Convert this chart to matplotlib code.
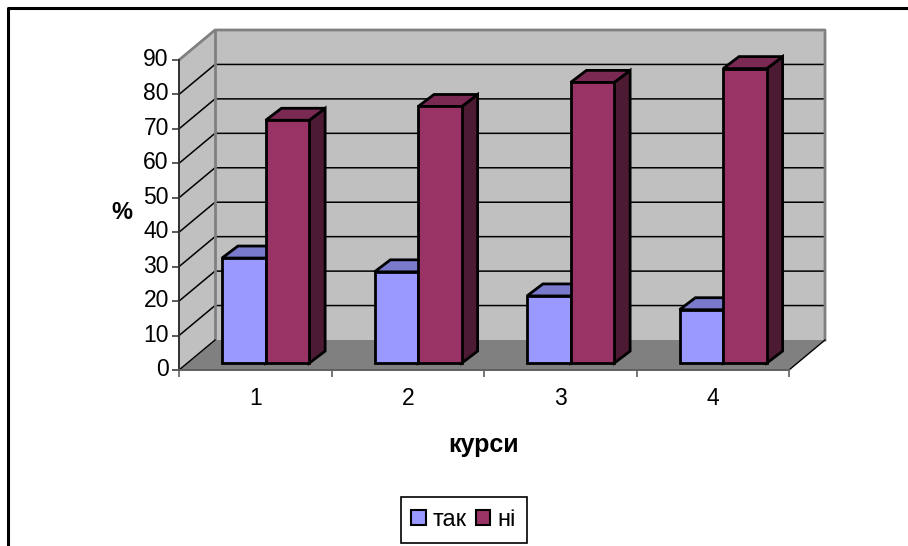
import matplotlib
matplotlib.use('Agg')
import matplotlib.pyplot as plt
from matplotlib.patches import Patch, Polygon, Rectangle
from matplotlib.lines import Line2D
from matplotlib.transforms import ScaledTranslation

plt.rcParams['font.family'] = ['Liberation Sans', 'DejaVu Sans']

categories = ['1', '2', '3', '4']
series_names = ['так', 'ні']
tak_values = [30.5, 26.5, 19.5, 15.5]
ni_values = [70.5, 74.5, 81.5, 85.5]
y_ticks = list(range(0, 100, 10))

# colours: front, top, side
tak_colors = ('#9999ff', '#7a7acc', '#4d4d80')
ni_colors = ('#993366', '#7a2952', '#4d1a33')

W, H = 908, 546
fig = plt.figure(figsize=(W / 100, H / 100), dpi=100, facecolor='white')
ax = fig.add_axes([179 / W, 1 - 370 / H, (789 - 179) / W, (370 - 60) / H])
ax.set_xlim(0, 4)
ax.set_ylim(0, 90)
ax.patch.set_visible(False)

# oblique depth of the chart box, in data units
DX = 36 / (610 / 4)
DY = 30 / (310 / 90)


def pt(x, y, d, dy=None):
    return (x + d * DX, y + (d if dy is None else dy) * DY)


def face(pts, color, z, lw=0.0, ec='none'):
    ax.add_patch(Polygon(pts, closed=True, facecolor=color, edgecolor=ec,
                         linewidth=lw, zorder=z, clip_on=False, joinstyle='miter'))


def box(x0, x1, h, colors, z):
    d0, d1, d1y = 0.23, 0.67, 0.63
    face([pt(x1, 0, d0), pt(x1, 0, d1, d1y), pt(x1, h, d1, d1y), pt(x1, h, d0)], colors[2], z, 2, 'black')
    face([pt(x0, h, d0), pt(x0, h, d1, d1y), pt(x1, h, d1, d1y), pt(x1, h, d0)], colors[1], z, 2, 'black')
    face([pt(x0, 0, d0), pt(x1, 0, d0), pt(x1, h, d0), pt(x0, h, d0)], colors[0], z, 2, 'black')


# walls and floor
face([pt(0, 0, 1), pt(4, 0, 1), pt(4, 90, 1), pt(0, 90, 1)], '#c0c0c0', 1)
face([pt(0, 0, 0), pt(0, 0, 1), pt(0, 90, 1), pt(0, 90, 0)], '#c0c0c0', 1)
face([pt(0, 0, 0), pt(4, 0, 0), pt(4, 0, 1), pt(0, 0, 1)], '#808080', 1)

for v in y_ticks[1:-1]:
    a, b, c = pt(0, v, 0), pt(0, v, 1), pt(4, v, 1)
    ax.plot([a[0], b[0], c[0]], [a[1], b[1], c[1]], color='black', lw=1.1, zorder=2, clip_on=False)

# wall outline
a, b, c, d = pt(0, 90, 0), pt(0, 90, 1), pt(4, 90, 1), pt(4, 0, 1)
ax.plot([a[0], b[0], c[0], d[0]], [a[1], b[1], c[1], d[1]], color='#808080', lw=2, zorder=3, clip_on=False)
a, b = pt(0, 0, 1), pt(0, 90, 1)
ax.plot([a[0], b[0]], [a[1], b[1]], color='#808080', lw=2, zorder=3, clip_on=False)
a, b = pt(0, 0, 0), pt(0, 0, 1)
ax.plot([a[0], b[0]], [a[1], b[1]], color='black', lw=1, zorder=3, clip_on=False)
a, b = pt(4, 0, 0), pt(4, 0, 1)
ax.plot([a[0], b[0]], [a[1], b[1]], color='black', lw=1, zorder=3, clip_on=False)

# bars
gap = 0.228
bar_w = 0.286
for i in range(len(categories)):
    box(i + gap, i + gap + bar_w, tak_values[i], tak_colors, 4 + i)
    box(i + gap + bar_w, i + gap + 2 * bar_w, ni_values[i], ni_colors, 4 + i)

# axes
for s in ('top', 'right'):
    ax.spines[s].set_visible(False)
ax.spines['left'].set_color('#303030')
ax.spines['left'].set_linewidth(1.4)
ax.spines['bottom'].set_color('#606060')
ax.spines['bottom'].set_linewidth(1.4)
ax.spines['left'].set_zorder(10)
ax.spines['bottom'].set_zorder(10)

ax.set_yticks(y_ticks)
ax.set_yticklabels([str(v) for v in y_ticks], fontsize=16.5)
ax.tick_params(axis='y', length=5, width=1.2, color='#404040', pad=2.3)
up = ScaledTranslation(0, 3 / 100, fig.dpi_scale_trans)
for lab in ax.get_yticklabels():
    lab.set_transform(lab.get_transform() + up)
ax.set_xticks(range(5))
ax.set_xticklabels([])
ax.tick_params(axis='x', length=5, width=1.2, color='#606060')
ax.set_xticks([i + 0.5 for i in range(4)], minor=True)
ax.set_xticklabels(categories, minor=True, fontsize=16.5)
ax.tick_params(axis='x', which='minor', length=0, pad=12)

fig.text(122 / W, 1 - 213 / H, '%', fontsize=17, fontweight='bold', ha='center', va='center')
fig.text(484 / W, 1 - 445 / H, 'курси', fontsize=18, fontweight='bold', ha='center', va='center')

# outer chart frame, cut off by the image edge
fig.add_artist(Line2D([8 / W, 8 / W, 1], [0, 1 - 8 / H, 1 - 8 / H], color='black', lw=2.2))

# legend box is a bit taller than its content, so the frame is drawn apart
fig.add_artist(Rectangle((401 / W, 1 - 543 / H), 126 / W, 46 / H, transform=fig.transFigure,
                         facecolor='white', edgecolor='black', linewidth=1.2))
handles = [Patch(facecolor=tak_colors[0], edgecolor='black', linewidth=1.5),
           Patch(facecolor=ni_colors[0], edgecolor='black', linewidth=1.5)]
leg = fig.legend(handles, series_names, loc='center', bbox_to_anchor=(463.5 / W, 1 - 520 / H),
                 ncol=2, frameon=False, fontsize=17, handlelength=0.6, handleheight=0.6,
                 handletextpad=0.3, columnspacing=0.4, borderpad=0, borderaxespad=0)

fig.savefig('out.png', dpi=100)
